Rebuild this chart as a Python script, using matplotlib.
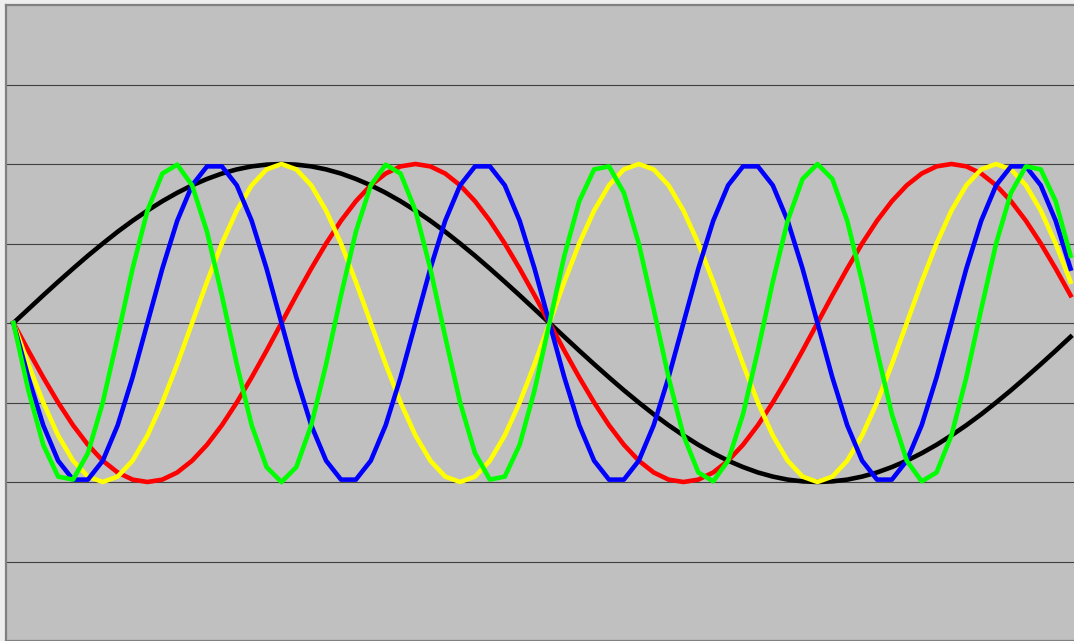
import matplotlib
matplotlib.use("Agg")
import matplotlib.pyplot as plt

# Categories: angle in degrees (5-degree steps)
degrees = [0, 5, 10, 15, 20, 25, 30, 35, 40, 45, 50, 55, 60, 65, 70, 75, 80, 85,
           90, 95, 100, 105, 110, 115, 120, 125, 130, 135, 140, 145, 150, 155, 160, 165, 170, 175,
           180, 185, 190, 195, 200, 205, 210, 215, 220, 225, 230, 235, 240, 245, 250, 255, 260, 265,
           270, 275, 280, 285, 290, 295, 300, 305, 310, 315, 320, 325, 330, 335, 340, 345, 350, 355]

black_series = [0, .087, .174, .259, .342, .423, .5, .574, .643, .707, .766, .819, .866, .906, .940, .966, .985, .996,
                1, .996, .985, .966, .940, .906, .866, .819, .766, .707, .643, .574, .5, .423, .342, .259, .174, .087,
                0, -.087, -.174, -.259, -.342, -.423, -.5, -.574, -.643, -.707, -.766, -.819, -.866, -.906, -.940, -.966, -.985, -.996,
                -1, -.996, -.985, -.966, -.940, -.906, -.866, -.819, -.766, -.707, -.643, -.574, -.5, -.423, -.342, -.259, -.174, -.087]

red_series = [0, -.174, -.342, -.5, -.643, -.766, -.866, -.940, -.985, -1, -.985, -.940, -.866, -.766, -.643, -.5, -.342, -.174,
              0, .174, .342, .5, .643, .766, .866, .940, .985, 1, .985, .940, .866, .766, .643, .5, .342, .174,
              0, -.174, -.342, -.5, -.643, -.766, -.866, -.940, -.985, -1, -.985, -.940, -.866, -.766, -.643, -.5, -.342, -.174,
              0, .174, .342, .5, .643, .766, .866, .940, .985, 1, .985, .940, .866, .766, .643, .5, .342, .174]

yellow_series = [0, -.259, -.5, -.707, -.866, -.966, -1, -.966, -.866, -.707, -.5, -.259,
                 0, .259, .5, .707, .866, .966, 1, .966, .866, .707, .5, .259,
                 0, -.259, -.5, -.707, -.866, -.966, -1, -.966, -.866, -.707, -.5, -.259,
                 0, .259, .5, .707, .866, .966, 1, .966, .866, .707, .5, .259,
                 0, -.259, -.5, -.707, -.866, -.966, -1, -.966, -.866, -.707, -.5, -.259,
                 0, .259, .5, .707, .866, .966, 1, .966, .866, .707, .5, .259]

blue_series = [0, -.342, -.643, -.866, -.985, -.985, -.866, -.643, -.342, 0, .342, .643, .866, .985, .985, .866, .643, .342,
               0, -.342, -.643, -.866, -.985, -.985, -.866, -.643, -.342, 0, .342, .643, .866, .985, .985, .866, .643, .342,
               0, -.342, -.643, -.866, -.985, -.985, -.866, -.643, -.342, 0, .342, .643, .866, .985, .985, .866, .643, .342,
               0, -.342, -.643, -.866, -.985, -.985, -.866, -.643, -.342, 0, .342, .643, .866, .985, .985, .866, .643, .342]

green_series = [0, -.423, -.766, -.966, -.985, -.819, -.5, -.087, .342, .707, .940, .996, .866, .574, .174, -.259, -.643, -.906,
                -1, -.906, -.643, -.259, .174, .574, .866, .996, .940, .707, .342, -.087, -.5, -.819, -.985, -.966, -.766, -.423,
                0, .423, .766, .966, .985, .819, .5, .087, -.342, -.707, -.940, -.996, -.866, -.574, -.174, .259, .643, .906,
                1, .906, .643, .259, -.174, -.574, -.866, -.996, -.940, -.707, -.342, .087, .5, .819, .985, .966, .766, .423]

series = [
    (black_series, "#000000"),
    (red_series, "#FF0000"),
    (yellow_series, "#FFFF00"),
    (blue_series, "#0000FF"),
    (green_series, "#00FF00"),
]

grid_values = [-1.5, -1.0, -0.5, 0.0, 0.5, 1.0, 1.5]

W, H = 1074, 641
fig = plt.figure(figsize=(W / 100, H / 100), dpi=100)
fig.patch.set_facecolor("#eeeeee")

left_px, top_px, right_px, bottom_px = 6, 5, 1078, 641
ax = fig.add_axes([left_px / W, 1 - bottom_px / H, (right_px - left_px) / W, (bottom_px - top_px) / H])
ax.set_facecolor("#C0C0C0")

idx = list(range(len(degrees)))
for gv in grid_values:
    ax.axhline(gv, color="#404040", lw=0.8, zorder=1)

for vals, col in series:
    ax.plot(idx, vals, color=col, lw=3.3, solid_joinstyle="round", solid_capstyle="projecting", zorder=3)

ax.set_xlim(-0.5, len(degrees) - 0.5)
ax.set_ylim(-2, 2)
ax.set_xticks([])
ax.set_yticks([])
for side in ["left", "top", "bottom", "right"]:
    ax.spines[side].set_color("#808080")
    ax.spines[side].set_linewidth(1.6)

fig.savefig("out.png", dpi=100, facecolor=fig.get_facecolor())
